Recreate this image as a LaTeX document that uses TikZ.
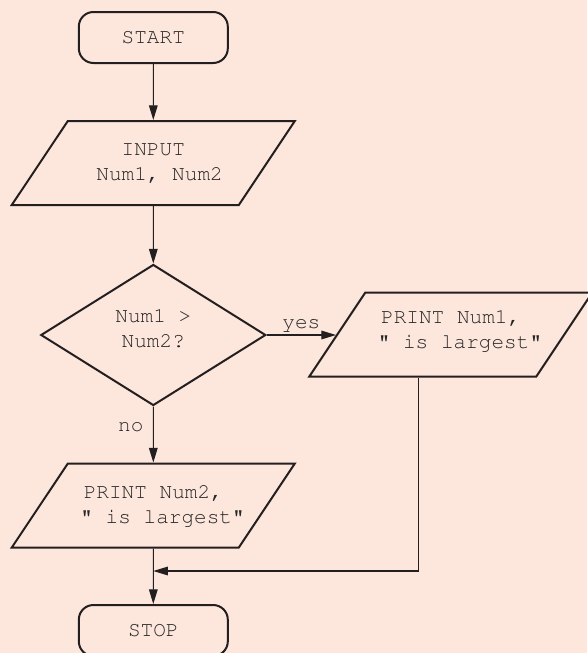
\documentclass[tikz,border=0pt]{standalone}
\usepackage[T1]{fontenc}
\usepackage{courier}
\usetikzlibrary{shapes.geometric,arrows.meta,calc}
\definecolor{bgcol}{HTML}{FDE7DC}
\definecolor{linecol}{HTML}{231F20}
\definecolor{txtcol}{HTML}{262626}
\newcommand{\flowfont}{\ttfamily\fontsize{15.8}{18.75}\selectfont}
\newcommand{\monosp}{\hspace*{0.6em}}
\begin{document}
\begin{tikzpicture}[x=0.75pt,y=-0.75pt,
  every node/.style={font=\flowfont, text=txtcol},
  shp/.style={draw=linecol, line width=1.5pt, align=center, inner sep=0pt},
  term/.style={shp, rectangle, rounded corners=11pt, minimum width=111.75pt, minimum height=38.25pt},
  io/.style={shp, trapezium, trapezium left angle=56.3, trapezium right angle=123.7,
    text width=128.25pt, text height=26pt, text depth=37pt},
  decision/.style={shp, diamond, aspect=1.6, text width=60pt, text height=15pt, text depth=33.5pt,
    minimum width=168.75pt, minimum height=105.75pt},
  conn/.style={draw=linecol, line width=0.8pt, -{Triangle[length=11pt,width=6.5pt]}},
  lbl/.style={inner sep=2pt}
]
\fill[bgcol] (0,0) rectangle (587,653);
\useasboundingbox (0,0) rectangle (587,653);

\node[term] (start) at (153.3,37.5) {START};
\node[io] (input) at (153.3,163) {INPUT\\\monosp Num1,\monosp Num2};
\node[decision] (cmp) at (153.3,335) {Num1\monosp>\\Num2?};
\node[io, text height=23pt, text depth=40pt] (p1) at (450.7,334.7) {PRINT\monosp Num1,\\\monosp"\monosp is\monosp largest"};
\node[io] (p2) at (153.3,505.5) {PRINT\monosp Num2,\\\monosp"\monosp is\monosp largest"};
\node[term] (stop) at (153.3,630.5) {STOP};
\coordinate (j) at (153.3,571);

\draw[conn] (start) -- (input);
\draw[conn] (input) -- (cmp);
\draw[conn] (cmp.east) -- node[above, lbl] (yes) {yes} (cmp.east -| p1.left side);
\draw[conn] (cmp) -- node[left=5pt, pos=0.37, lbl] (no) {no} (p2);
\draw[conn] ([xshift=-2.85pt]p1.bottom side) |- (j);
\draw[conn] (p2) -- (stop);
\end{tikzpicture}
\end{document}
